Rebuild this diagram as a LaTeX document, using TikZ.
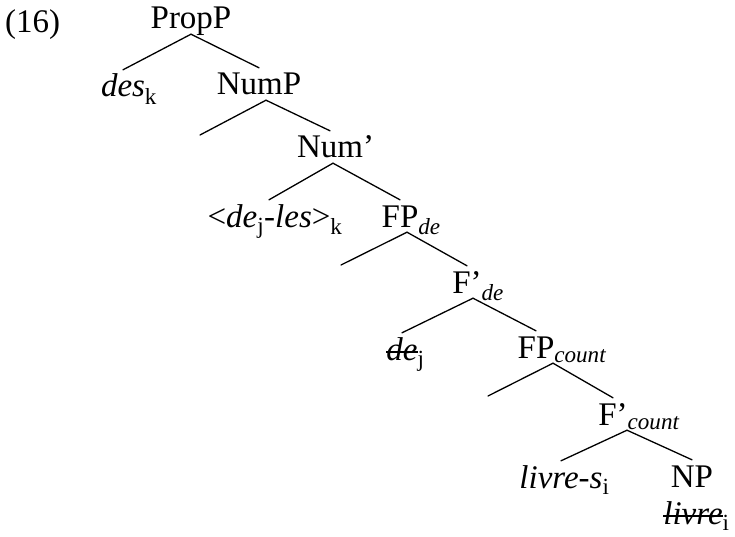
\documentclass[tikz,border=0pt]{standalone}
\usepackage{fontspec}
\setmainfont{Liberation Serif}

\newcommand{\treefont}{\fontsize{33}{39}\selectfont}
\newcommand{\idx}[1]{\rlap{\textsubscript{#1}}}
\newsavebox{\tracebox}
\newcommand{\trace}[1]{\sbox{\tracebox}{\textit{#1}}%
	\rlap{\rule[0.2em]{\wd\tracebox}{0.06em}}\usebox{\tracebox}}

\begin{document}
\begin{tikzpicture}[x=1pt, y=-1pt,
		cat/.style={anchor=base, inner xsep=0pt, inner ysep=3pt,
			text height=24pt, text depth=2pt, font=\treefont},
		br/.style={line width=1.3pt, line cap=round}
		]
		\useasboundingbox (0,0) rectangle (735,537);
		\node[cat, anchor=base west] (ex) at (5,33) {(16)};
		\node[cat] (propP) at (191,29) {PropP};
		\node[cat] (desk) at (123,97) {\textit{des}\idx{k}};
		\node[cat] (numP) at (259,95) {NumP};
		\node[cat] (numbar) at (330,158) {Num\rlap{’}};
		\node[cat] (dejles) at (269,227) {<\textit{de}\textsubscript{j}-\textit{les}>\idx{k}};
		\node[cat] (fpde) at (400,227) {FP\idx{\textit{de}}};
		\node[cat] (fbarde) at (467,293) {F’\idx{\textit{de}}};
		\node[cat] (dej) at (402,360) {\trace{de}\idx{j}};
		\node[cat] (fpcount) at (536,358) {FP\idx{\textit{count}}};
		\node[cat] (fbarcount) at (613,425) {F’\idx{\textit{count}}};
		\node[cat] (livres) at (561,488) {\textit{livre-s}\idx{i}};
		\node[cat] (np) at (692,487) {NP};
		\node[cat] (livrei) at (693,524) {\trace{livre}\idx{i}};
		
		% empty specifiers
		\coordinate (e1) at (200,135);
		\coordinate (e2) at (341,265);
		\coordinate (e3) at (488,396);
		
		\foreach \p/\d/\c in {propP/0/desk.north, propP/0/numP.north,
			numP/7/e1, numP/7/numbar.north, numbar/3/dejles.north, numbar/3/fpde.north,
			fpde/7/e2, fpde/7/fbarde.north, fbarde/6/dej.north, fbarde/6/fpcount.north,
			fpcount/17/e3, fpcount/17/fbarcount.north,
			fbarcount/14/livres.north, fbarcount/14/np.north}
		\draw[br] ([xshift=\d pt]\p.south) -- (\c);
	\end{tikzpicture}
\end{document}
